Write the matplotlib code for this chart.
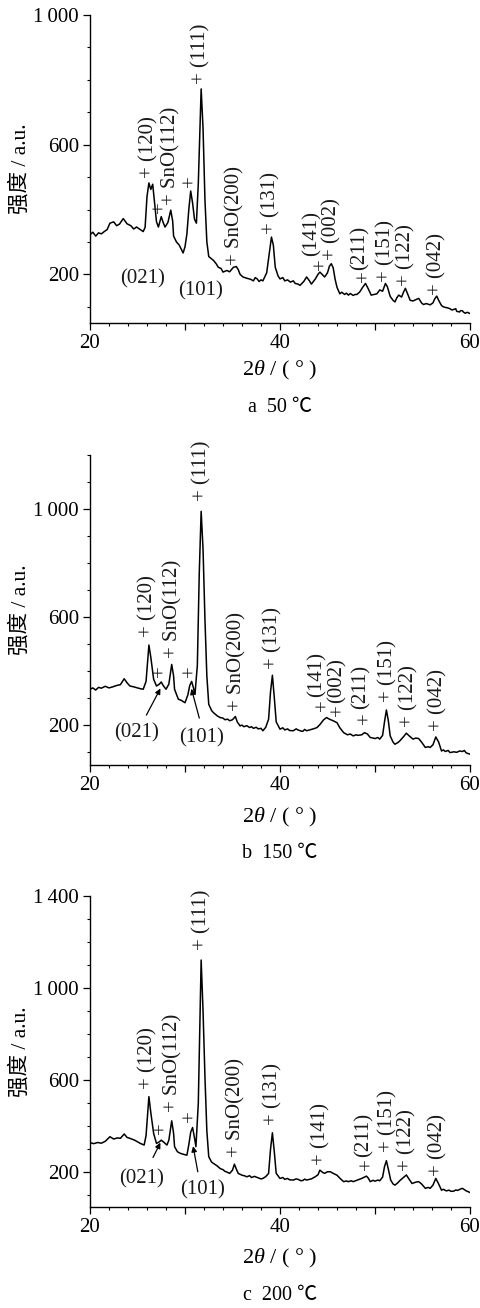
import numpy as np
import matplotlib
matplotlib.use("Agg")
import matplotlib.pyplot as plt
from matplotlib.ticker import FixedLocator, MultipleLocator

plt.rcParams['font.family'] = ['Liberation Serif', 'Noto Sans CJK SC', 'DejaVu Sans']
plt.rcParams['mathtext.fontset'] = 'custom'
plt.rcParams['mathtext.rm'] = 'Liberation Serif'
plt.rcParams['mathtext.it'] = 'Liberation Serif:italic'

# XRD scans: (2theta, intensity)
scan_50 = [
    (20.0, 322), (20.3, 330), (20.6, 318), (20.9, 328), (21.2, 325), (21.5, 332), (21.8, 338), (22.1, 358),
    (22.5, 362), (22.8, 350), (23.1, 355), (23.5, 372), (23.9, 356), (24.3, 350), (24.6, 340), (24.9, 346),
    (25.3, 338), (25.6, 332), (25.8, 345), (26.0, 440), (26.2, 482), (26.4, 462), (26.6, 478), (26.8, 420),
    (27.0, 362), (27.2, 346), (27.5, 378), (27.7, 360), (27.9, 346), (28.2, 360), (28.5, 398), (28.7, 365),
    (28.8, 318), (29.1, 300), (29.4, 290), (29.8, 266), (30.0, 285), (30.2, 325), (30.4, 400), (30.6, 457),
    (30.8, 420), (31.0, 370), (31.2, 358), (31.4, 480), (31.7, 772), (31.9, 650), (32.1, 430), (32.3, 300),
    (32.5, 255), (32.8, 248), (33.0, 243), (33.3, 232), (33.5, 222), (33.8, 218), (34.0, 207), (34.4, 212),
    (34.7, 208), (35.1, 222), (35.4, 224), (35.6, 215), (35.8, 200), (36.1, 192), (36.5, 188), (36.9, 185),
    (37.2, 180), (37.4, 190), (37.6, 186), (37.8, 178), (38.0, 183), (38.2, 180), (38.6, 205), (38.9, 270),
    (39.1, 315), (39.3, 290), (39.5, 222), (39.8, 195), (40.0, 186), (40.3, 190), (40.5, 180), (40.8, 183),
    (41.1, 176), (41.4, 180), (41.6, 172), (41.9, 170), (42.1, 166), (42.5, 178), (42.8, 192), (43.1, 180),
    (43.3, 170), (43.7, 185), (44.0, 200), (44.2, 207), (44.5, 198), (44.7, 192), (45.0, 205), (45.2, 225),
    (45.4, 233), (45.6, 220), (45.8, 185), (46.0, 160), (46.3, 140), (46.5, 145), (46.8, 138), (47.0, 142),
    (47.2, 136), (47.4, 141), (47.7, 135), (47.9, 138), (48.1, 138), (48.4, 146), (48.7, 160), (49.0, 172),
    (49.3, 155), (49.6, 136), (49.9, 138), (50.2, 140), (50.5, 152), (50.8, 148), (51.1, 172), (51.3, 162),
    (51.6, 132), (51.9, 120), (52.1, 115), (52.3, 128), (52.5, 136), (52.8, 130), (53.0, 145), (53.2, 157),
    (53.5, 135), (53.7, 120), (54.0, 118), (54.3, 122), (54.6, 126), (54.9, 112), (55.1, 107), (55.4, 110),
    (55.8, 106), (56.1, 112), (56.3, 125), (56.5, 133), (56.7, 120), (57.0, 104), (57.2, 100), (57.4, 98),
    (57.6, 97), (57.9, 94), (58.1, 90), (58.3, 92), (58.5, 94), (58.6, 86), (58.9, 84), (59.0, 88),
    (59.2, 88), (59.3, 84), (59.5, 80), (59.7, 83), (59.8, 82), (60.0, 79),
]

scan_150 = [
    (20.0, 331), (20.3, 336), (20.6, 328), (20.9, 338), (21.2, 335), (21.6, 342), (22.0, 336), (22.4, 340),
    (22.8, 345), (23.2, 348), (23.6, 370), (23.9, 355), (24.2, 343), (24.6, 340), (24.9, 337), (25.3, 333),
    (25.6, 331), (25.9, 360), (26.2, 495), (26.4, 450), (26.7, 368), (27.0, 343), (27.3, 350), (27.5, 358),
    (27.7, 345), (28.0, 331), (28.3, 350), (28.6, 423), (28.8, 380), (28.9, 331), (29.3, 294), (29.6, 290),
    (30.0, 281), (30.3, 310), (30.5, 345), (30.7, 360), (30.9, 335), (31.05, 312), (31.3, 420), (31.5, 760),
    (31.7, 991), (31.9, 850), (32.1, 590), (32.3, 380), (32.5, 275), (32.8, 252), (33.0, 244), (33.4, 232),
    (33.7, 226), (34.0, 224), (34.2, 218), (34.5, 220), (34.7, 214), (35.0, 218), (35.3, 230), (35.5, 210),
    (35.8, 195), (36.0, 198), (36.2, 192), (36.5, 196), (36.8, 189), (37.0, 192), (37.2, 186), (37.5, 190),
    (37.7, 184), (38.0, 186), (38.2, 177), (38.5, 190), (38.8, 220), (39.0, 320), (39.2, 383), (39.4, 300),
    (39.6, 210), (40.0, 183), (40.3, 188), (40.5, 180), (40.8, 184), (41.0, 178), (41.4, 177), (41.7, 184),
    (41.9, 180), (42.2, 176), (42.4, 175), (42.6, 182), (42.8, 177), (43.2, 181), (43.6, 185), (43.9, 189),
    (44.2, 200), (44.6, 218), (44.9, 226), (45.2, 220), (45.6, 214), (46.0, 207), (46.3, 188), (46.7, 170),
    (46.9, 166), (47.1, 162), (47.4, 165), (47.7, 158), (48.0, 162), (48.2, 160), (48.6, 162), (48.9, 170),
    (49.2, 165), (49.5, 152), (49.8, 150), (50.0, 148), (50.3, 152), (50.5, 146), (50.8, 160), (51.0, 210),
    (51.2, 254), (51.4, 215), (51.6, 158), (51.9, 135), (52.1, 127), (52.4, 133), (52.6, 139), (53.0, 155),
    (53.3, 168), (53.6, 158), (54.0, 146), (54.3, 150), (54.6, 148), (54.9, 135), (55.3, 115), (55.6, 118),
    (55.8, 115), (56.1, 125), (56.4, 154), (56.7, 135), (57.0, 102), (57.2, 106), (57.4, 100), (57.7, 104),
    (57.9, 96), (58.3, 99), (58.6, 97), (58.9, 102), (59.2, 100), (59.4, 104), (59.6, 95), (60.0, 90),
]

scan_200 = [
    (20.0, 329), (20.4, 325), (20.8, 330), (21.2, 327), (21.6, 335), (22.1, 355), (22.5, 345), (22.9, 350),
    (23.2, 348), (23.6, 367), (23.9, 352), (24.2, 348), (24.7, 340), (25.0, 333), (25.3, 326), (25.7, 319),
    (25.9, 360), (26.2, 529), (26.4, 460), (26.7, 369), (27.0, 326), (27.3, 333), (27.5, 340), (27.8, 330),
    (28.1, 319), (28.3, 340), (28.6, 424), (28.8, 370), (28.9, 312), (29.2, 290), (29.5, 283), (29.9, 278),
    (30.2, 275), (30.4, 320), (30.6, 375), (30.8, 395), (31.0, 350), (31.15, 312), (31.4, 500), (31.7, 1122),
    (31.9, 900), (32.1, 615), (32.3, 380), (32.5, 268), (32.8, 245), (33.0, 239), (33.4, 228), (33.7, 217),
    (34.0, 212), (34.2, 205), (34.5, 200), (34.7, 196), (35.0, 210), (35.2, 236), (35.4, 215), (35.6, 196),
    (35.8, 192), (36.0, 188), (36.3, 185), (36.5, 181), (36.8, 186), (37.0, 178), (37.3, 183), (37.5, 180),
    (37.8, 176), (38.0, 172), (38.2, 174), (38.5, 182), (38.8, 196), (39.0, 300), (39.2, 372), (39.4, 290),
    (39.6, 196), (40.0, 174), (40.3, 178), (40.5, 170), (40.8, 174), (41.0, 168), (41.4, 167), (41.7, 172),
    (41.9, 170), (42.2, 164), (42.4, 165), (42.6, 171), (42.8, 167), (43.3, 172), (43.7, 181), (44.0, 190),
    (44.2, 210), (44.5, 200), (44.7, 196), (45.0, 203), (45.3, 203), (45.6, 196), (46.0, 188), (46.3, 175),
    (46.7, 160), (47.0, 163), (47.2, 160), (47.5, 164), (47.7, 160), (48.1, 166), (48.6, 174), (49.1, 184),
    (49.3, 175), (49.5, 160), (49.8, 166), (50.0, 162), (50.3, 167), (50.5, 164), (50.8, 180), (51.0, 225),
    (51.2, 251), (51.4, 215), (51.65, 167), (51.9, 150), (52.1, 145), (52.4, 155), (52.6, 164), (53.0, 178),
    (53.3, 189), (53.6, 170), (53.9, 152), (54.3, 158), (54.6, 160), (54.9, 150), (55.3, 131), (55.6, 135),
    (55.8, 131), (56.1, 145), (56.4, 174), (56.7, 150), (57.0, 123), (57.2, 127), (57.5, 120), (57.8, 123),
    (58.0, 118), (58.3, 119), (58.5, 124), (58.7, 122), (59.0, 128), (59.2, 131), (59.6, 120), (60.0, 113),
]

# rotated peak labels: (text, 2theta, intensity at bottom of the text)
peaks_50 = [
    ("+ (120)", 26.2, 496), ("+", 27.5, 390), ("+ SnO(112)", 28.55, 413), ("+", 30.6, 470),
    ("+ (111)", 31.65, 786), ("+ SnO(200)", 35.25, 230), ("+ (131)", 39.0, 325), ("+", 44.4, 213),
    ("(141)", 43.35, 258), ("+ (002)", 45.45, 243), ("+", 48.95, 177), ("(211)", 48.45, 212),
    ("+ (151)", 51.15, 177), ("+ (122)", 53.25, 163), ("+ (042)", 56.55, 135),
]
peaks_150 = [
    ("+ (120)", 26.07, 523), ("+", 27.47, 375), ("+ SnO(112)", 28.67, 446), ("+", 30.6, 375),
    ("+ (111)", 31.75, 1029), ("+ SnO(200)", 35.44, 251), ("+ (131)", 39.23, 405),
    ("+", 44.67, 249), ("(141)", 43.9, 304), ("+", 46.2, 230), ("(002)", 46.0, 281),
    ("+", 49.05, 201), ("(211)", 48.5, 256), ("+ (151)", 51.33, 282), ("+ (122)", 53.55, 192),
    ("+ (042)", 56.6, 175),
]
peaks_200 = [
    ("+ (120)", 26.07, 562), ("+", 27.6, 369), ("+ SnO(112)", 28.77, 463), ("+", 30.63, 417),
    ("+ (111)", 31.8, 1164), ("+ SnO(200)", 35.33, 268), ("+ (131)", 39.23, 405), ("+ (141)", 44.28, 232),
    ("+", 49.3, 210), ("(211)", 48.84, 268), ("+ (151)", 51.4, 287), ("+ (122)", 53.35, 206),
    ("+ (042)", 56.6, 185),
]

# horizontal labels: (text, x, y, arrow tail, arrow head); None = no arrow
notes_50 = [("(021)", 25.5, 186, None, None), ("(101)", 31.6, 150, None, None)]
notes_150 = [("(021)", 24.9, 170, (25.8, 226), (27.55, 343)),
             ("(101)", 31.75, 152, (31.58, 214), (30.6, 343))]
notes_200 = [("(021)", 25.4, 174, (26.5, 254), (27.54, 340)),
             ("(101)", 31.8, 123, (31.4, 191), (30.8, 326))]

ytop = [1000, 1200, 1400]
ymajor = [[200, 600, 1000], [200, 600, 1000], [200, 600, 1000, 1400]]
captions = ["a  50 ℃", "b  150 ℃", "c  200 ℃"]

# axes boxes in pixels (top, bottom) of the 481x1308 image
boxes = [(15, 323), (455, 765), (896, 1207)]
xlab_y = [370, 817, 1258]
cap_y = [408, 853, 1295]

W, H = 481, 1308
fig = plt.figure(figsize=(W / 100, H / 100), dpi=100)

panels = [(scan_50, peaks_50, notes_50), (scan_150, peaks_150, notes_150), (scan_200, peaks_200, notes_200)]
ink = "#1a1a1a"

for i, (scan, peaks, notes) in enumerate(panels):
    top, bot = boxes[i]
    ax = fig.add_axes([90 / W, 1 - bot / H, 380 / W, (bot - top) / H])
    tt, inten = np.array(scan).T
    ax.plot(tt, inten, color="black", lw=1.1)

    ax.set_xlim(20, 60)
    ax.set_ylim(50, ytop[i])
    for s in ["top", "right"]:
        ax.spines[s].set_visible(False)
    for s in ["left", "bottom"]:
        ax.spines[s].set_linewidth(1.0)

    ax.xaxis.set_major_locator(FixedLocator([20, 30, 40, 50, 60]))
    ax.set_xticklabels(["20", "", "40", "", "60"])
    ax.xaxis.set_minor_locator(MultipleLocator(2))
    ax.yaxis.set_major_locator(FixedLocator(ymajor[i]))
    ax.set_yticklabels([f"{v:,}".replace(",", "\u2009") for v in ymajor[i]])
    ax.yaxis.set_minor_locator(MultipleLocator(100))
    ax.tick_params(which="major", direction="out", length=5, width=0.9, labelsize=15, pad=3)
    ax.tick_params(which="minor", direction="out", length=2.5, width=0.8)

    ax.set_ylabel("强度 / a.u.", fontsize=15.5)
    ax.yaxis.set_label_coords(-0.155, 0.5)
    ax.set_xlabel("2$\\mathit{\\theta}$ / ( ° )", fontsize=16, va="center")
    ax.xaxis.set_label_coords(0.5, -(xlab_y[i] - bot) / (bot - top))
    ax.text(0.5, -(cap_y[i] - bot) / (bot - top), captions[i], transform=ax.transAxes,
            ha="center", va="center", fontsize=14.5)

    for label, x, y in peaks:
        ax.text(x, y, label, rotation=90, ha="center", va="bottom", fontsize=15, color=ink)

    for label, x, y, tail, head in notes:
        ax.text(x, y, label, ha="center", va="center", fontsize=15, color=ink)
        if tail is not None:
            ax.annotate("", xy=head, xytext=tail,
                        arrowprops=dict(arrowstyle="-|>", lw=0.9, color="black", mutation_scale=8))

fig.savefig("out.png", dpi=100)
